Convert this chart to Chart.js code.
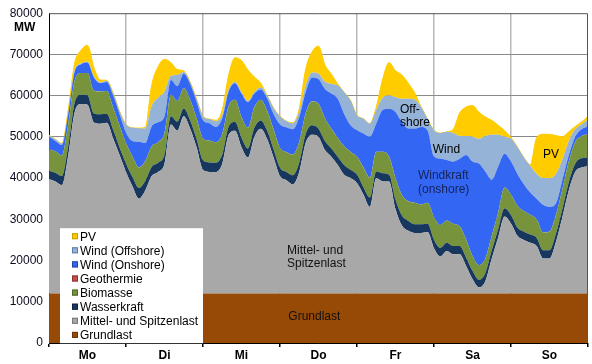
<!DOCTYPE html>
<html>
<head>
<meta charset="utf-8">
<script src="https://cdn.jsdelivr.net/npm/chart.js@4.4.1/dist/chart.umd.min.js"></script>
<style>
html, body { margin: 0; padding: 0; background: #fff; }
#wrap { width: 592px; height: 364px; }
</style>
</head>
<body>
<div id="wrap"><canvas id="myChart" width="592" height="364"></canvas></div>
<script>
// hour of the week (Mo 0:00 ... So 24:00), one value every 2 hours
const hours = [0,2,4,6,8,10,12,14,16,18,20,22,
  24,26,28,30,32,34,36,38,40,42,44,46,
  48,50,52,54,56,58,60,62,64,66,68,70,
  72,74,76,78,80,82,84,86,88,90,92,94,
  96,98,100,102,104,106,108,110,112,114,116,118,
  120,122,124,126,128,130,132,134,136,138,140,142,
  144,146,148,150,152,154,156,158,160,162,164,166,168];
const dayNames = ['Mo','Di','Mi','Do','Fr','Sa','So'];

// MW per source
const grundlast = [12000,12000,12000,12000,12000,12000,12000,12000,12000,12000,12000,12000,
  12000,12000,12000,12000,12000,12000,12000,12000,12000,12000,12000,12000,
  12000,12000,12000,12000,12000,12000,12000,12000,12000,12000,12000,12000,
  12000,12000,12000,12000,12000,12000,12000,12000,12000,12000,12000,12000,
  12000,12000,12000,12000,12000,12000,12000,12000,12000,12000,12000,12000,
  12000,12000,12000,12000,12000,12000,12000,12000,12000,12000,12000,12000,
  12000,12000,12000,12000,12000,12000,12000,12000,12000,12000,12000,12000,12000];
const mittel = [27800,27200,26300,33500,44000,46000,45800,41500,41200,41400,37600,33600,
  29500,26000,23000,25000,28500,29500,31500,41000,39500,43000,40000,35500,
  30000,29500,29500,31500,38500,39500,35500,33000,38000,40000,37500,33000,
  28500,27500,26500,29500,36500,38500,38000,34800,33200,31200,28800,28000,
  26800,24000,21000,28000,27200,27200,20500,16500,15200,14700,14700,14900,
  11000,9000,10300,9500,9500,6700,3500,1500,3000,8500,13600,18700,
  17000,14000,13000,12300,11500,8500,8500,12500,18500,25000,29500,30600,30800];
const wasser = [2000,2100,2200,2300,2300,2200,2300,2200,2300,2200,2100,1800,
  2000,2300,2600,2300,2200,2200,2200,2000,2200,1900,2000,2000,
  2300,2300,2200,2200,2000,2100,2300,2200,2200,2000,2000,2000,
  2000,2000,2200,2300,2200,2300,2000,2200,2000,2000,2400,2000,
  2000,1800,2300,1600,2000,1600,2300,2400,2400,2100,2100,2100,
  2000,2100,2000,2000,2000,2000,2000,1800,2000,2000,2000,2000,
  2000,2000,2000,2000,2000,2000,2000,2000,2000,2000,2000,2200,2200];
const biomasse = [5200,5200,5000,5300,5300,5300,5400,5500,5500,5500,5400,5300,
  5000,5000,5000,4800,5000,5000,5200,5200,5000,4900,5000,5000,
  5300,5300,5000,5000,5000,5400,5000,5000,5000,5000,4800,4800,
  4800,4800,5000,5000,5000,5800,6000,5500,4800,4500,4500,4400,
  4400,4800,4800,4800,5200,4400,5200,5000,4800,5200,4800,5000,
  5500,5500,5400,5400,4800,4400,3600,3600,3500,3500,4000,5000,
  5000,5300,5000,4800,4500,4300,4500,4500,4800,5000,5200,5400,5600];
const geothermie = [20,20,20,20,20,20,20,20,20,20,20,20,
  20,20,20,20,20,20,20,20,20,20,20,20,
  20,20,20,20,20,20,20,20,20,20,20,20,
  20,20,20,20,20,20,20,20,20,20,20,20,
  20,20,20,20,20,20,20,20,20,20,20,20,
  20,20,20,20,20,20,20,20,20,20,20,20,
  20,20,20,20,20,20,20,20,20,20,20,20,20];
const onshore = [3000,2500,2500,2500,2200,2100,2500,3200,2000,2200,2900,2800,
  2500,3700,6200,4400,4800,4800,4100,3600,3600,3500,3800,4000,
  4400,4200,3700,3800,3500,4000,5700,6200,3300,2500,3000,3700,
  5700,6000,6100,6000,5100,5800,6000,7100,8500,9500,7800,6400,
  6400,8200,9900,6800,10100,11600,16000,17600,17600,18000,18800,17500,
  14700,16100,14700,15100,16400,20500,22900,24600,21100,13600,11200,8200,
  8000,7700,6500,5400,5000,6700,6000,2800,2200,1500,1300,1600,1900];
const offshore = [400,400,400,200,300,200,200,200,200,300,600,700,
  2000,3200,3300,3500,5000,6000,6000,1000,2700,400,500,700,
  1000,1000,1400,800,500,300,300,300,300,500,700,1500,
  2000,1500,1500,1200,1600,1200,1300,1800,2300,3300,5300,6000,
  3600,3600,3200,3300,3000,3200,3600,5700,7200,7000,4800,2800,
  6400,6200,6800,6900,5500,4600,6000,6000,8600,10900,7700,4100,
  5500,6500,6500,6500,6000,6500,7000,7200,5000,3500,1800,1200,1700];
const pv = [0,0,0,700,1800,3200,4000,2200,600,100,0,0,
  0,0,0,300,5000,7500,7800,3200,1300,300,0,0,
  0,0,200,1200,3500,5900,7700,7500,3700,1000,0,0,
  0,0,100,800,4000,5000,6700,4000,2400,300,0,0,
  0,0,0,700,4500,8000,6400,5800,3800,1600,0,0,
  0,0,0,900,5600,7000,7600,6500,4600,3500,2300,1500,
  300,0,0,200,8800,10600,10600,9300,5500,2200,700,600,800];

const FONT = '"Liberation Sans", Arial, sans-serif';

function makeSet(label, values, color, edge) {
  return {
    label: label,
    data: hours.map((h, i) => ({ x: h, y: values[i] })),
    backgroundColor: color,
    borderColor: color,
    borderWidth: 0,
    edge: edge,
    fill: '-1',
    pointRadius: 0,
    cubicInterpolationMode: 'monotone'
  };
}

let datasets = [
  makeSet('Grundlast', grundlast, '#974A06', '#6b3404'),
  makeSet('Mittel- und Spitzenlast', mittel, '#A8A8A8', '#777'),
  makeSet('Wasserkraft', wasser, '#17375E', '#0d2240'),
  makeSet('Biomasse', biomasse, '#77933C', '#4f6627'),
  makeSet('Geothermie', geothermie, '#C0504D', '#8c3331'),
  makeSet('Wind (Onshore)', onshore, '#3366F2', '#2244aa'),
  makeSet('Wind (Offshore)', offshore, '#95B3D7', '#5d7ea8'),
  makeSet('PV', pv, '#FFCC00', '#c79f00')
];
datasets[0].fill = 'origin';
datasets[7].borderWidth = 1;

// text written into the areas, anchored in data coordinates (hour, MW)
const areaText = [
  { t: 'Mittel- und', h: 74.2, v: 22300, c: '#111' },
  { t: 'Spitzenlast', h: 74.2, v: 19200, c: '#111' },
  { t: 'Grundlast', h: 74.6, v: 6500, c: '#111' },
  { t: 'Off-', h: 109.4, v: 56600, c: '#000' },
  { t: 'shore', h: 109.4, v: 53500, c: '#000' },
  { t: 'Wind', h: 119.6, v: 47000, c: '#000' },
  { t: 'Windkraft', h: 115.0, v: 40500, c: '#14235a' },
  { t: '(onshore)', h: 115.0, v: 37300, c: '#14235a' },
  { t: 'PV', h: 154.0, v: 45600, c: '#000' }
];

const extras = {
  id: 'extras',
  afterDatasetsDraw(chart) {
    const ctx = chart.ctx;
    const area = chart.chartArea;
    const xs = chart.scales.x, ys = chart.scales.y;
    ctx.save();
    // frame top / right
    ctx.strokeStyle = '#555';
    ctx.lineWidth = 1;
    ctx.beginPath();
    ctx.moveTo(area.left, area.top + 0.5);
    ctx.lineTo(area.right - 0.5, area.top + 0.5);
    ctx.lineTo(area.right - 0.5, area.bottom);
    ctx.stroke();

    // labels in the areas
    ctx.font = '12px ' + FONT;
    ctx.textBaseline = 'middle';
    ctx.textAlign = 'left';
    areaText.forEach(a => {
      ctx.fillStyle = a.c;
      ctx.fillText(a.t, xs.getPixelForValue(a.h), ys.getPixelForValue(a.v));
    });

    // legend box
    const x0 = area.left + 11, y0 = area.top + 215;
    ctx.fillStyle = '#fff';
    ctx.fillRect(x0, y0, 143, 115);
    const items = chart.data.datasets.slice().reverse();
    items.forEach((ds, i) => {
      const y = y0 + 8 + i * 14.1;
      ctx.fillStyle = ds.backgroundColor;
      ctx.fillRect(x0 + 12, y - 3, 6, 6);
      ctx.strokeStyle = ds.edge;
      ctx.strokeRect(x0 + 12.5, y - 2.5, 5, 5);
      ctx.fillStyle = '#000';
      ctx.fillText(ds.label, x0 + 20, y + 1);
    });

    // unit
    ctx.font = 'bold 12px ' + FONT;
    ctx.fillText('MW', area.left - 35, area.top + 14);
    ctx.restore();
  }
};

const ctx = document.getElementById('myChart').getContext('2d');
const myChart = new Chart(ctx, {
  type: 'line',
  data: { datasets: datasets },
  options: {
    responsive: false,
    animation: false,
    layout: { padding: { top: 10, right: 4, left: 0, bottom: 0 } },
    plugins: {
      legend: { display: false },
      tooltip: { enabled: false }
    },
    scales: {
      x: {
        type: 'linear',
        min: 0,
        max: 168,
        afterFit(scale) { scale.height = 21; },
        ticks: {
          stepSize: 12,
          autoSkip: false,
          maxRotation: 0,
          padding: 1,
          color: '#000',
          font: { family: FONT, size: 12, weight: 'bold' },
          callback: v => (v % 24 === 12 ? dayNames[(v - 12) / 24] : '')
        },
        grid: {
          color: c => (c.tick && c.tick.value % 24 === 0 && c.tick.value > 0 && c.tick.value < 168 ? '#b8b8b8' : 'transparent'),
          lineWidth: 1.5,
          tickLength: 4,
          tickColor: c => (c.tick && c.tick.value % 24 === 0 ? '#000' : 'transparent')
        },
        border: { color: '#000', width: 1 }
      },
      y: {
        stacked: true,
        min: 0,
        max: 80000,
        afterFit(scale) { scale.width = 49; },
        ticks: {
          stepSize: 10000,
          padding: 6,
          color: '#0c0c20',
          font: { family: FONT, size: 12 },
          callback: v => String(v)
        },
        grid: {
          color: c => (c.tick && c.tick.value === 80000 ? 'transparent' : '#8a8a8a'),
          lineWidth: 1,
          drawTicks: false
        },
        border: { color: '#000', width: 1 }
      }
    }
  },
  plugins: [extras]
});
</script>
</body>
</html>
